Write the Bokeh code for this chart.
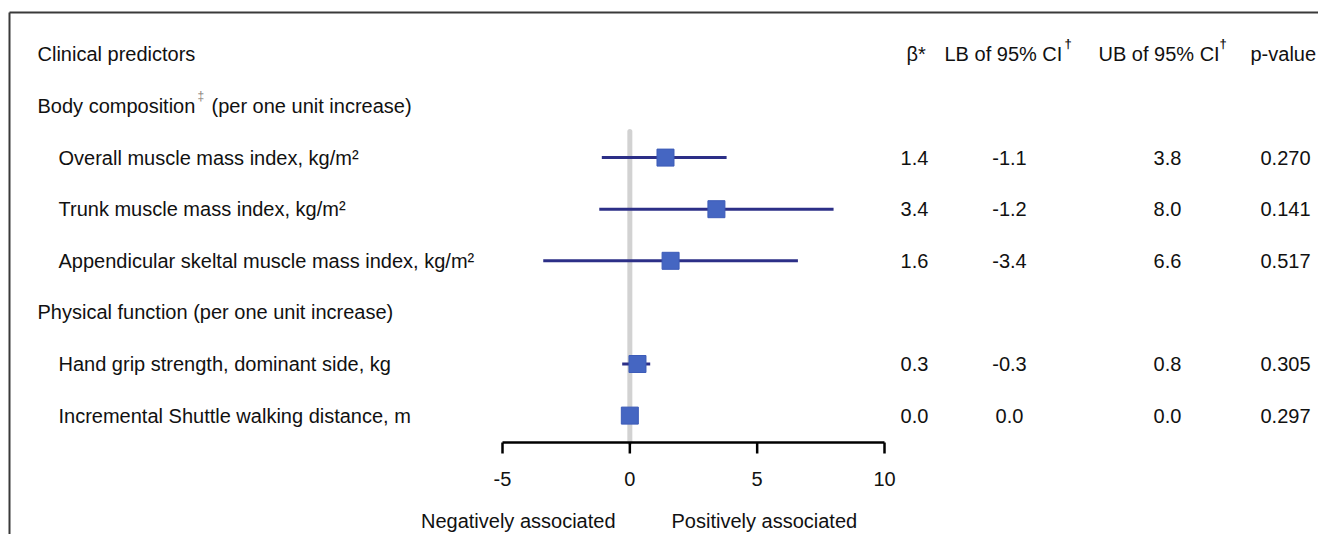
from bokeh.plotting import figure
from bokeh.models import Range1d, ColumnDataSource
from bokeh.embed import file_html
from bokeh.resources import INLINE
from bokeh.core.properties import value

# ---------------- data ----------------
header_cols = ["β*", "LB of 95% CI", "UB of 95% CI", "p-value"]
group_labels = ["Body composition", "Physical function (per one unit increase)"]
predictors = [
    "Overall muscle mass index, kg/m²",
    "Trunk muscle mass index, kg/m²",
    "Appendicular skeltal muscle mass index, kg/m²",
    "Hand grip strength, dominant side, kg",
    "Incremental Shuttle walking distance, m",
]
beta = [1.4, 3.4, 1.6, 0.3, 0.0]
lower = [-1.1, -1.2, -3.4, -0.3, 0.0]
upper = [3.8, 8.0, 6.6, 0.8, 0.0]
p_values = ["0.270", "0.141", "0.517", "0.305", "0.297"]
ticks = [-5, 0, 5, 10]

# ---------------- layout ----------------
W, H = 1318, 534
FONT = value("Liberation Sans")
FS = "20px"
TXT = "#111111"

# row index: header=-1, body comp=0, predictors 1,2,3, physical=4, predictors 5,6
group_rows = [0, 4]
pred_rows = [1, 2, 3, 5, 6]
ROW0 = 105.5   # pixel of row 0
ROW_H = 51.6
def row_of(py):
    return (py - ROW0) / ROW_H
y_top, y_bot = row_of(0), row_of(H)

# forest x scale: -5 at px 502, 10 at px 884
PX_PER = (884 - 502) / 15.0
ZERO = 502 + 5 * PX_PER
x_left = (0 - ZERO) / PX_PER
x_right = (W - ZERO) / PX_PER

p = figure(width=W, height=H, output_backend="svg", toolbar_location=None,
           x_range=Range1d(x_left, x_right), y_range=Range1d(y_bot, y_top),
           min_border=0, border_fill_color="white", background_fill_color="white")
p.extra_x_ranges = {"px": Range1d(0, W)}
p.axis.visible = False
p.grid.visible = False
p.outline_line_color = None

# frame (top & left)
fy = row_of(12)
p.segment(x0=[9, 9], y0=[fy, fy], x1=[W, 9], y1=[fy, y_bot], x_range_name="px",
          line_color="#3a3a3a", line_width=2)

# zero reference line
axis_y = row_of(442)
p.segment(x0=[0], y0=[row_of(131)], x1=[0], y1=[axis_y], line_color="#d2d2d2",
          line_width=5, line_cap="round")

# CI lines and points
src = ColumnDataSource(dict(y=pred_rows, beta=beta, lo=lower, hi=upper))
p.segment(x0="lo", y0="y", x1="hi", y1="y", source=src, line_color="#2c2f87", line_width=3)
p.scatter(x="beta", y="y", source=src, marker="square", size=17,
          fill_color="#4566c2", line_color="#3d5cb8", line_width=1)

# x axis drawn as bracket
tick_len = 11 / ROW_H
p.segment(x0=[ticks[0]], y0=[axis_y], x1=[ticks[-1]], y1=[axis_y], line_color="black", line_width=2.5)
p.segment(x0=ticks, y0=[axis_y] * len(ticks), x1=ticks, y1=[axis_y + tick_len] * len(ticks),
          line_color="black", line_width=2.5)
p.text(x=ticks, y=[row_of(478)] * len(ticks), text=[str(t) for t in ticks],
       text_align="center", text_baseline="middle", text_font=FONT,
       text_font_size=FS, text_color=TXT)
p.text(x=[615, 671], y=[row_of(520)] * 2, text=["Negatively associated", "Positively associated"],
       x_range_name="px", text_align=["right", "left"], text_baseline="middle",
       text_font=FONT, text_font_size=FS, text_color=TXT)

# left column labels
p.text(x=[37], y=[-1], text=["Clinical predictors"], x_range_name="px",
       text_baseline="middle", text_font=FONT, text_font_size=FS, text_color=TXT)
p.text(x=[37, 37], y=group_rows, text=group_labels, x_range_name="px",
       text_baseline="middle", text_font=FONT, text_font_size=FS, text_color=TXT)
p.text(x=[197], y=[-0.2], text=["‡"], x_range_name="px",
       text_baseline="middle", text_font=FONT, text_font_size="12px", text_color="#8a7f7a")
p.text(x=[211], y=[0], text=["(per one unit increase)"], x_range_name="px",
       text_baseline="middle", text_font=FONT, text_font_size=FS, text_color=TXT)
p.text(x=[58] * len(predictors), y=pred_rows, text=predictors, x_range_name="px",
       text_baseline="middle", text_font=FONT, text_font_size=FS, text_color=TXT)

# header columns
p.text(x=[906, 944, 1098, 1250], y=[-1] * 4, text=header_cols, x_range_name="px",
       text_baseline="middle", text_font=FONT, text_font_size=FS, text_color=TXT)
p.text(x=[1064, 1219], y=[-1.22] * 2, text=["†", "†"], x_range_name="px",
       text_baseline="middle", text_font=FONT, text_font_size="13px",
       text_font_style="bold", text_color=TXT)

# numeric columns
def fmt(v):
    return f"{v:.1f}"
for cx, vals in [(914, [fmt(v) for v in beta]), (1009, [fmt(v) for v in lower]),
                 (1167, [fmt(v) for v in upper]), (1285, p_values)]:
    p.text(x=[cx] * len(vals), y=pred_rows, text=vals, x_range_name="px",
           text_align="center", text_baseline="middle", text_font=FONT,
           text_font_size=FS, text_color=TXT)

open("out.html", "w").write(file_html(p, INLINE))
